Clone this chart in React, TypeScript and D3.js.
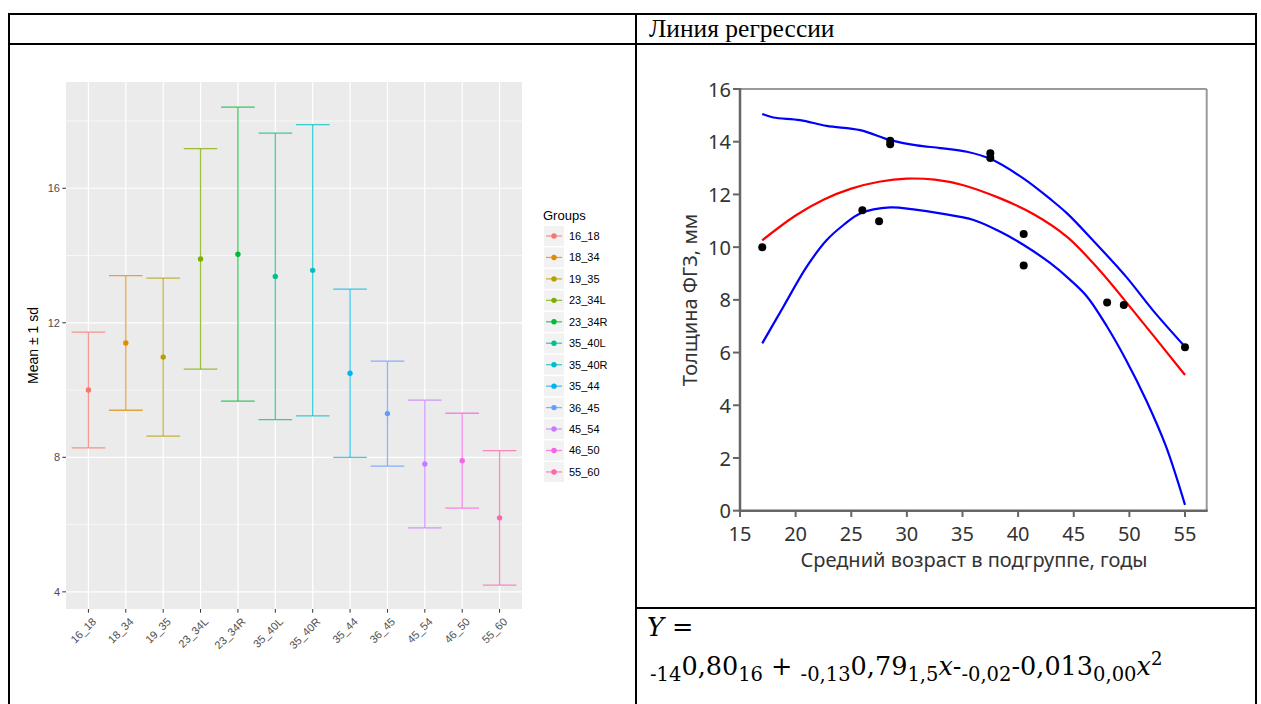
import React from 'react';
import * as d3 from 'd3';

// ---------- Left chart data (ggplot error bars) ----------
const groups = ['16_18', '18_34', '19_35', '23_34L', '23_34R', '35_40L', '35_40R', '35_44', '36_45', '45_54', '46_50', '55_60'];
const means = [10.0, 11.4, 10.98, 13.9, 14.04, 13.38, 13.56, 10.5, 9.3, 7.8, 7.9, 6.2];
const sds = [1.72, 2.0, 2.35, 3.28, 4.37, 4.26, 4.33, 2.5, 1.56, 1.9, 1.41, 2.0];
const groupColors = ['#F8766D', '#DE8C00', '#B79F00', '#7CAE00', '#00BA38', '#00C08B', '#00BFC4', '#00B4F0', '#619CFF', '#C77CFF', '#F564E3', '#FF64B0'];
const leftYTicks = [4, 8, 12, 16];
const leftYMinor = [6, 10, 14, 18];

// ---------- Right chart data (regression) ----------
const pointAge = [17, 26, 27.5, 28.5, 28.5, 37.5, 37.5, 40.5, 40.5, 48, 49.5, 55];
const pointThick = [10.0, 11.4, 10.98, 14.04, 13.9, 13.56, 13.38, 10.5, 9.3, 7.9, 7.8, 6.2];
const fitAge = [17, 20, 22.5, 25, 27.5, 30, 32.5, 35, 38.4, 41.4, 44.4, 47.3, 50.3, 55];
const fitThick = [10.26, 11.2, 11.8, 12.22, 12.48, 12.6, 12.56, 12.36, 11.85, 11.25, 10.39, 9.13, 7.61, 5.15];
const upperAge = [17, 18, 20.4, 22.8, 25.8, 28.5, 30.9, 33, 35.4, 37.5, 40.5, 42.9, 44.4, 46.7, 49.7, 52.1, 55];
const upperThick = [15.05, 14.92, 14.82, 14.6, 14.44, 14.06, 13.86, 13.76, 13.62, 13.35, 12.6, 11.82, 11.28, 10.27, 8.88, 7.61, 6.22];
const lowerAge = [17, 18.9, 21.0, 22.8, 24.3, 25.8, 28.5, 30.6, 33, 36, 38.4, 40.5, 42.9, 44.7, 46.2, 48, 49.7, 51.5, 53.3, 55];
const lowerThick = [6.35, 7.74, 9.26, 10.27, 10.84, 11.28, 11.51, 11.43, 11.28, 11.03, 10.58, 10.08, 9.39, 8.75, 8.12, 6.98, 5.72, 4.2, 2.43, 0.22];
const rightXTicks = [15, 20, 25, 30, 35, 40, 45, 50, 55];
const rightYTicks = [0, 2, 4, 6, 8, 10, 12, 14, 16];

const headerText = 'Линия регрессии';
const xTitle = 'Средний возраст в подгруппе, годы';
const yTitle = 'Толщина ФГЗ, мм';

type Seg = { t: string; kind?: 'sub' | 'sup' | 'it' };
const formulaLine2: Seg[] = [
  { t: '-14', kind: 'sub' }, { t: '0,80' }, { t: '16', kind: 'sub' }, { t: ' + ' },
  { t: '-0,13', kind: 'sub' }, { t: '0,79' }, { t: '1,5', kind: 'sub' }, { t: 'x', kind: 'it' },
  { t: '-' }, { t: '-0,02', kind: 'sub' }, { t: '-0,013' }, { t: '0,00', kind: 'sub' },
  { t: 'x', kind: 'it' }, { t: '2', kind: 'sup' },
];

const SANS = '"Liberation Sans", Arial, sans-serif';
const UI = '"Noto Sans", "Open Sans", sans-serif';
const SERIF = '"Liberation Serif", "Times New Roman", serif';
const MATH = '"DejaVu Serif", serif';

function LeftChart() {
  const x = d3.scalePoint<string>().domain(groups).range([66, 522]).padding(0.6);
  const step = x.step();
  const y = d3.scaleLinear().domain([3.49, 19.16]).range([609, 82]);
  const capHalf = step * 0.45;
  return (
    <g>
      <rect x={66} y={82} width={456} height={527} fill="#EBEBEB" />
      {leftYMinor.map((t) => (
        <line key={'mn' + t} x1={66} x2={522} y1={y(t)} y2={y(t)} stroke="#fff" strokeWidth={0.6} />
      ))}
      {leftYTicks.map((t) => (
        <line key={'mj' + t} x1={66} x2={522} y1={y(t)} y2={y(t)} stroke="#fff" strokeWidth={1.2} />
      ))}
      {groups.map((g) => (
        <line key={'v' + g} x1={x(g)} x2={x(g)} y1={82} y2={609} stroke="#fff" strokeWidth={1.2} />
      ))}
      {groups.map((g, i) => {
        const cx = x(g)!;
        const lo = y(means[i] - sds[i]);
        const hi = y(means[i] + sds[i]);
        return (
          <g key={'eb' + g}>
            <g stroke={groupColors[i]} strokeWidth={1.3} strokeOpacity={0.75}>
              <line x1={cx} x2={cx} y1={lo} y2={hi} />
              <line x1={cx - capHalf} x2={cx + capHalf} y1={lo} y2={lo} />
              <line x1={cx - capHalf} x2={cx + capHalf} y1={hi} y2={hi} />
            </g>
            <circle cx={cx} cy={y(means[i])} r={2.7} fill={groupColors[i]} />
          </g>
        );
      })}
      {/* y axis */}
      {leftYTicks.map((t) => (
        <g key={'yt' + t}>
          <line x1={62.3} x2={66} y1={y(t)} y2={y(t)} stroke="#333" strokeWidth={1} />
          <text x={60} y={y(t)} dy="0.36em" textAnchor="end" fontFamily={SANS} fontSize={11} fill="#4D4D4D">{t}</text>
        </g>
      ))}
      <text transform={`translate(38,${(82 + 609) / 2}) rotate(-90)`} textAnchor="middle" fontFamily={SANS} fontSize={14} fill="#000">Mean ± 1 sd</text>
      {/* x axis */}
      {groups.map((g) => (
        <g key={'xt' + g}>
          <line x1={x(g)} x2={x(g)} y1={609} y2={612.7} stroke="#333" strokeWidth={1} />
          <text transform={`translate(${x(g)! + 3},${617}) rotate(-45)`} textAnchor="end" dy="0.7em" fontFamily={SANS} fontSize={11} fill="#4D4D4D">{g}</text>
        </g>
      ))}
      {/* legend */}
      <text x={543} y={220} fontFamily={SANS} fontSize={13} fill="#000">Groups</text>
      {groups.map((g, i) => {
        const cy = 236 + i * 21.45;
        return (
          <g key={'lg' + g}>
            <rect x={544} y={cy - 10} width={20} height={20} fill="#F2F2F2" />
            <line x1={546} x2={562} y1={cy} y2={cy} stroke={groupColors[i]} strokeOpacity={0.75} strokeWidth={1.3} />
            <circle cx={554} cy={cy} r={2.7} fill={groupColors[i]} />
            <text x={569} y={cy} dy="0.36em" fontFamily={SANS} fontSize={11} fill="#000">{g}</text>
          </g>
        );
      })}
    </g>
  );
}

function RightChart() {
  const x = d3.scaleLinear().domain([15, 56.95]).range([740, 1206.7]);
  const y = d3.scaleLinear().domain([0, 16]).range([510.7, 89]);
  const mk = (xs: number[], ys: number[]) =>
    d3.line<number>().x((_, i) => x(xs[i])).y((_, i) => y(ys[i])).curve(d3.curveCatmullRom.alpha(0.5))(xs) || '';
  return (
    <g>
      {/* frame */}
      <line x1={740} x2={1206.7} y1={89} y2={89} stroke="#9A9A9A" strokeWidth={2} />
      <line x1={1206.7} x2={1206.7} y1={89} y2={510.7} stroke="#9A9A9A" strokeWidth={2} />
      <path d={mk(upperAge, upperThick)} fill="none" stroke="#0000FF" strokeWidth={2.2} />
      <path d={mk(lowerAge, lowerThick)} fill="none" stroke="#0000FF" strokeWidth={2.2} />
      <path d={mk(fitAge, fitThick)} fill="none" stroke="#FF0000" strokeWidth={2.2} />
      {pointAge.map((a, i) => (
        <circle key={'p' + i} cx={x(a)} cy={y(pointThick[i])} r={4} fill="#000" />
      ))}
      <line x1={740} x2={740} y1={88} y2={511.7} stroke="#666" strokeWidth={2.5} />
      <line x1={739} x2={1207.7} y1={510.7} y2={510.7} stroke="#666" strokeWidth={2.5} />
      {rightYTicks.map((t) => (
        <g key={'ry' + t}>
          <line x1={733} x2={740} y1={y(t)} y2={y(t)} stroke="#666" strokeWidth={2} />
          <text x={731} y={y(t)} dy="0.38em" textAnchor="end" fontFamily={UI} fontSize={20} fill="#333">{t}</text>
        </g>
      ))}
      {rightXTicks.map((t) => (
        <g key={'rx' + t}>
          <line x1={x(t)} x2={x(t)} y1={510.7} y2={517} stroke="#666" strokeWidth={2} />
          <text x={x(t)} y={541} textAnchor="middle" fontFamily={UI} fontSize={20} fill="#333">{t}</text>
        </g>
      ))}
      <text x={974} y={567} textAnchor="middle" fontFamily={UI} fontSize={20} fill="#333">{xTitle}</text>
      <text transform={`translate(697,300) rotate(-90)`} textAnchor="middle" fontFamily={UI} fontSize={20} fill="#333">{yTitle}</text>
    </g>
  );
}

function Formula() {
  let shift = 0;
  const spans = formulaLine2.map((s, i) => {
    let target = 0;
    let size = 25.5;
    let style: string | undefined;
    if (s.kind === 'sub') { target = 6; size = 19.5; }
    else if (s.kind === 'sup') { target = -10; size = 18; }
    else if (s.kind === 'it') { style = 'italic'; }
    const dy = target - shift;
    shift = target;
    return (
      <tspan key={i} dy={dy} fontSize={size} fontStyle={style}>{s.t}</tspan>
    );
  });
  return (
    <g fontFamily={MATH} fill="#000">
      <text x={647} y={636} fontSize={25.5} style={{ whiteSpace: 'pre' }}><tspan fontStyle="italic">Y</tspan> =</text>
      <text x={650} y={675} fontSize={25.5} style={{ whiteSpace: 'pre' }}>{spans}</text>
    </g>
  );
}

export default function App() {
  return (
    <svg width={1261} height={704} style={{ position: 'absolute', left: 0, top: 0, background: '#fff' }}>
      <rect x={0} y={0} width={1261} height={704} fill="#fff" />
      {/* table grid */}
      <g stroke="#000" strokeWidth={2}>
        <line x1={8} x2={1257} y1={14} y2={14} />
        <line x1={8} x2={1257} y1={44} y2={44} />
        <line x1={9} x2={9} y1={13} y2={704} />
        <line x1={636} x2={636} y1={13} y2={704} />
        <line x1={1256} x2={1256} y1={13} y2={704} />
        <line x1={636} x2={1257} y1={608} y2={608} />
      </g>
      <text x={649} y={37} fontFamily={SERIF} fontSize={25.5} fill="#000">{headerText}</text>
      <LeftChart />
      <RightChart />
      <Formula />
    </svg>
  );
}
